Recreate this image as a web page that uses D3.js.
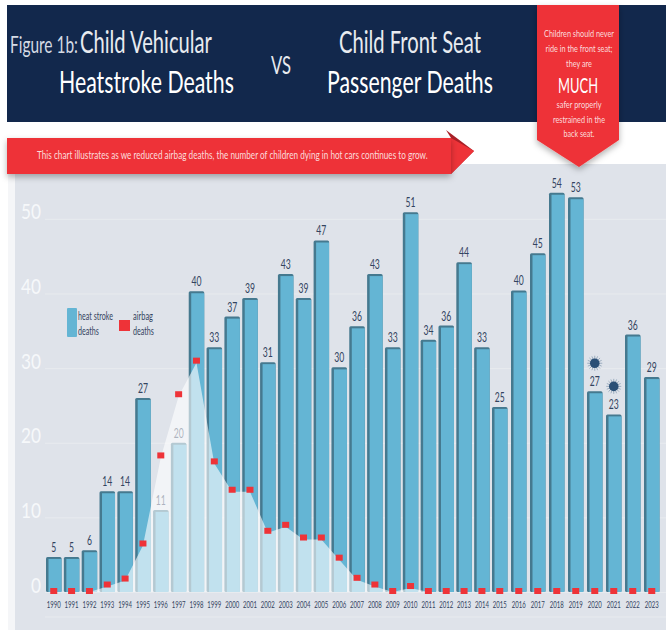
<!DOCTYPE html>
<html>
<head>
<meta charset="utf-8">
<script src="https://cdn.jsdelivr.net/npm/d3@7"></script>
<style>
    html, body { margin: 0; padding: 0; background: #fff; overflow: hidden; }
    svg { display: block; }
    text { font-family: Lato, sans-serif; }
</style>
</head>
<body>
<div id="chart"></div>
<script>
// Chart data
const years = d3.range(1990, 2024);
const heatLabels = [5, 5, 6, 14, 14, 27, 11, 20, 40, 33, 37, 39, 31, 43, 39, 47, 30, 36, 43, 33, 51, 34, 36, 44, 33, 25, 40, 45, 54, 53, 27, 23, 36, 29];
// drawn bar heights differ slightly from the printed labels in the original
const heatBars = [4.7, 4.7, 5.6, 13.5, 13.5, 26, 11, 20, 40.3, 32.8, 36.9, 39.4, 30.8, 42.6, 39.4, 47.1, 30.1, 35.6, 42.6, 32.8, 50.9, 33.8, 35.7, 44.2, 32.8, 24.8, 40.4, 45.4, 53.5, 52.9, 26.9, 23.8, 34.5, 28.8];
const airbagDeaths = [0, 0, 0, 1, 1.8, 6.5, 18.3, 26.5, 31, 17.5, 13.7, 13.7, 8.2, 9, 7.3, 7.3, 4.6, 1.9, 1, 0, 0.8, 0, 0, 0, 0, 0, 0, 0, 0, 0, 0, 0, 0, 0];
const yTicks = [0, 10, 20, 30, 40, 50];
const covidYears = [2020, 2021];

const calloutLines = [
    {text: "Children should never", y: 37, w: 70},
    {text: "ride in the front seat;", y: 52, w: 67},
    {text: "they are", y: 67, w: 26},
    {text: "safer properly", y: 108, w: 45},
    {text: "restrained in the", y: 123, w: 52},
    {text: "back seat.", y: 137, w: 31}
];

const navy = "#12284c", red = "#ee3338", blue = "#64b5d4", blueDark = "#45798f", ink = "#33435f";

const svg = d3.select("#chart").append("svg")
    .attr("width", 666)
    .attr("height", 638);

const defs = svg.append("defs");
const shadow = defs.append("filter").attr("id", "soft")
    .attr("x", "-10%").attr("y", "-30%").attr("width", "120%").attr("height", "170%");
shadow.append("feDropShadow")
    .attr("dx", 0).attr("dy", 3).attr("stdDeviation", 3)
    .attr("flood-color", "#000").attr("flood-opacity", 0.3);

// Condensed text: the original face is much narrower than Lato,
// so squeeze each string to the width measured in the picture
function label(parent, str, x, y, size, width, color, anchor, weight) {
    let t = parent.append("text")
        .attr("font-size", size)
        .attr("font-weight", weight || 400)
        .attr("fill", color)
        .attr("text-anchor", anchor || "start")
        .text(str);
    let natural = t.node().getComputedTextLength();
    t.attr("transform", `translate(${x},${y}) scale(${width / natural},1)`);
    return t;
}

// Chart panel
svg.append("rect")
    .attr("x", 8).attr("y", 164).attr("width", 8).attr("height", 466)
    .attr("fill", "#f5f6f8");
svg.append("rect")
    .attr("x", 15).attr("y", 164).attr("width", 651).attr("height", 466)
    .attr("fill", "#dfe3ea");

// Scales
const x = d3.scaleLinear()
    .domain([1990, 2015, 2023])
    .range([46, 492, 644]);
const barWidth = 15.5;
const y = d3.scaleLinear()
    .domain([0, 54])
    .range([592, 189]);

// Y axis, gridlines and big numbers sitting on them
const yAxis = svg.append("g")
    .attr("transform", "translate(45,0)")
    .call(d3.axisLeft(y).tickValues(yTicks).tickSize(-621).tickPadding(4));
yAxis.select(".domain").remove();
yAxis.selectAll(".tick line").attr("stroke", "#e8ebef").attr("stroke-width", 1);
yAxis.selectAll(".tick text")
    .attr("fill", "#f6f8fa")
    .attr("font-size", 21)
    .attr("dy", 0)
    .attr("y", 0)
    .style("font-family", "Lato, sans-serif")
    .attr("textLength", d => d === 0 ? 10 : 20)
    .attr("lengthAdjust", "spacingAndGlyphs");
svg.append("line")
    .attr("x1", 45).attr("x2", 666).attr("y1", 617).attr("y2", 617)
    .attr("stroke", "#e8ebef");

// Bars: dark side and top, lighter front
const bars = svg.append("g").selectAll("g")
    .data(years)
    .enter().append("g");
bars.append("rect")
    .attr("x", d => x(d))
    .attr("y", (d, i) => y(heatBars[i]))
    .attr("width", barWidth)
    .attr("height", (d, i) => y(0) - y(heatBars[i]))
    .attr("rx", 1.5)
    .attr("fill", blueDark);
bars.append("rect")
    .attr("x", d => x(d) + 2.5)
    .attr("y", (d, i) => y(heatBars[i]) + 2)
    .attr("width", barWidth - 2.5)
    .attr("height", (d, i) => y(0) - y(heatBars[i]) - 2)
    .attr("fill", blue);
bars.each(function(d, i) {
    let str = String(heatLabels[i]);
    label(d3.select(this), str, x(d) + barWidth / 2, y(heatBars[i]) - 5, 12.5, str.length > 1 ? 10 : 5, ink, "middle");
    label(d3.select(this), String(d), x(d) + barWidth / 2, 608, 9.5, 14, ink, "middle");
});

// Airbag area, washes out everything behind it
const area = d3.area()
    .x((d, i) => x(years[i]) + barWidth / 2)
    .y0(y(0))
    .y1(d => Math.min(y(d) + 2, y(0)));
svg.append("path")
    .datum(airbagDeaths)
    .attr("d", area)
    .attr("fill", "#fff")
    .attr("opacity", 0.6);

// Airbag markers
svg.append("g").selectAll("rect")
    .data(airbagDeaths)
    .enter().append("rect")
    .attr("x", (d, i) => x(years[i]) + barWidth / 2 - 3.5)
    .attr("y", d => Math.min(y(d), y(0) - 1) - 3)
    .attr("width", 7)
    .attr("height", 6)
    .attr("fill", red);

// Covid icons above 2020 and 2021
covidYears.forEach(year => {
    let i = years.indexOf(year);
    let icon = svg.append("g")
        .attr("transform", `translate(${x(year) + barWidth / 2},${y(heatBars[i]) - 28})`);
    d3.range(16).forEach(k => {
        let a = k / 16 * 2 * Math.PI;
        icon.append("line")
            .attr("x1", 0).attr("y1", 0)
            .attr("x2", 7.5 * Math.cos(a)).attr("y2", 7.5 * Math.sin(a))
            .attr("stroke", "#7f97ae").attr("stroke-width", 0.7);
    });
    icon.append("circle").attr("r", 4.8).attr("fill", "#2a4f76");
});

// Legend
const legend = svg.append("g");
legend.append("rect")
    .attr("x", 67).attr("y", 308).attr("width", 10).attr("height", 29).attr("rx", 1)
    .attr("fill", blue);
label(legend, "heat stroke", 78, 320, 11, 35, ink);
label(legend, "deaths", 78, 335, 11, 21, ink);
legend.append("rect")
    .attr("x", 119).attr("y", 320).attr("width", 11).attr("height", 11)
    .attr("fill", red);
label(legend, "airbag", 133, 320, 11, 20, ink);
label(legend, "deaths", 133, 335, 11, 21, ink);

// Header band
svg.append("rect")
    .attr("x", 7).attr("y", 5).attr("width", 659).attr("height", 117)
    .attr("fill", navy);
label(svg, "Figure 1b:", 10, 53, 24, 68, "#d5dbe4");
label(svg, "Child Vehicular", 80, 53, 30, 132, "#e8ebf0");
label(svg, "Heatstroke Deaths", 59, 93, 30, 175, "#fff");
label(svg, "VS", 271, 74, 25, 20, "#e8ebf0");
label(svg, "Child Front Seat", 339, 53, 30, 142, "#e8ebf0");
label(svg, "Passenger Deaths", 327, 93, 30, 166, "#fff");

// Ribbon with folded arrow end
svg.append("path")
    .attr("d", d3.line()([[446, 130], [474, 151], [451, 174], [451, 138]]))
    .attr("fill", "#a92027");
svg.append("path")
    .attr("d", d3.line()([[451, 138], [474, 151], [451, 174]]))
    .attr("fill", red);
svg.append("rect")
    .attr("x", 7).attr("y", 138).attr("width", 444).attr("height", 36)
    .attr("fill", red)
    .attr("filter", "url(#soft)");
label(svg, "This chart illustrates as we reduced airbag deaths, the number of children dying in hot cars continues to grow.",
    37, 159, 12, 391, "#fbdcdc");

// Callout flag
svg.append("path")
    .attr("d", d3.line()([[537, 5], [619, 5], [619, 140], [579, 167], [537, 140]]))
    .attr("fill", red)
    .attr("filter", "url(#soft)");
calloutLines.forEach(d => label(svg, d.text, 579, d.y, 10, d.w, "#fbdcdc", "middle"));
label(svg, "MUCH", 578, 93, 22, 40, "#fff", "middle");
</script>
</body>
</html>
